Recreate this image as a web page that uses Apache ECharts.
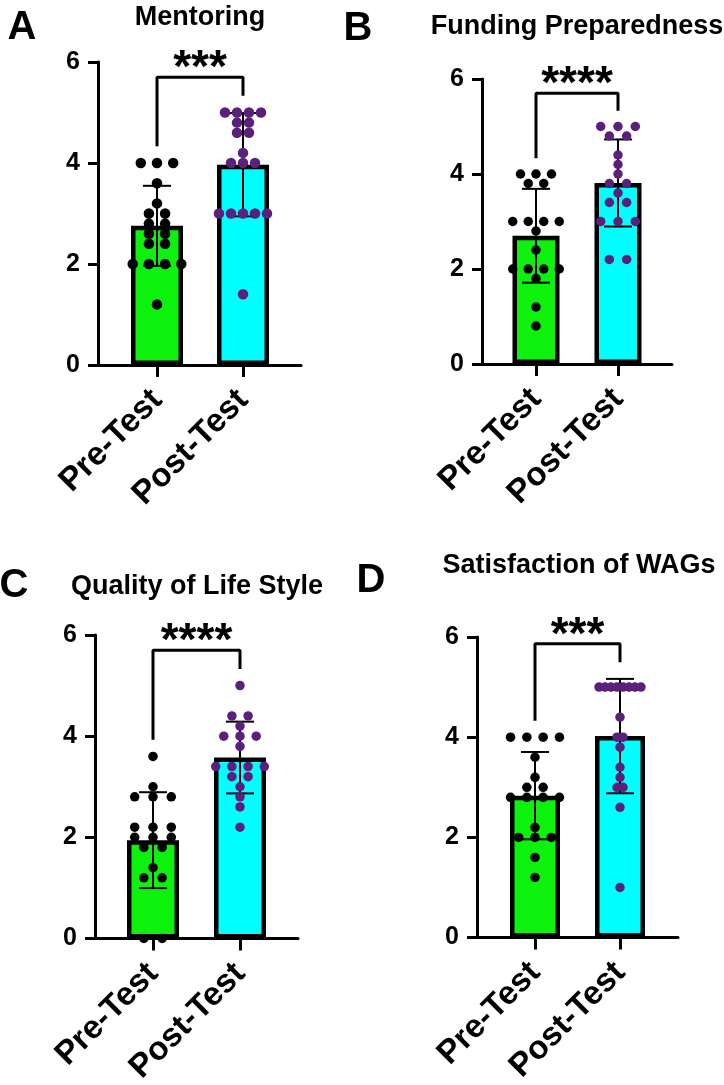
<!DOCTYPE html>
<html>
<head>
<meta charset="utf-8">
<script src="https://cdn.jsdelivr.net/npm/echarts@6.0.0/dist/echarts.min.js"></script>
<style>
html,body{margin:0;padding:0;background:#fff;}
#chart{width:724px;height:1085px;}
</style>
</head>
<body>
<div id="chart"></div>
<script>
// ---------- data ----------
const categories = ['Pre-Test', 'Post-Test'];
const titles = ['Mentoring', 'Funding Preparedness', 'Quality of Life Style', 'Satisfaction of WAGs'];
const panelLetters = ['A', 'B', 'C', 'D'];
const significance = ['***', '****', '****', '***'];
const yTickValues = [0, 2, 4, 6];

const mentoringPre  = [4, 4, 4, 3.6, 3.2, 3, 3, 2.8, 2.8, 2.6, 2.6, 2.4, 2.4, 2, 2, 2, 2, 1.2];
const mentoringPost = [5, 5, 5, 5, 4.8, 4.8, 4.6, 4.6, 4.2, 4, 4, 4, 3, 3, 3, 3, 3, 1.4];
const fundingPre    = [4, 4, 4, 3.8, 3.8, 3, 3, 3, 3, 2.8, 2.4, 2, 2, 2, 2, 1.8, 1.2, 0.8];
const fundingPost   = [5, 5, 5, 4.8, 4.8, 4.4, 4.2, 4, 3.8, 3.8, 3.6, 3.4, 3.4, 3, 3, 3, 2.2, 2.2];
const lifestylePre  = [3.6, 3, 2.8, 2.8, 2.8, 2.2, 2.2, 2.2, 2, 2, 2, 1.8, 1.8, 1.4, 1.2, 1.2, 0, 0];
const lifestylePost = [5, 4.4, 4.4, 4.2, 4, 4, 4, 3.8, 3.4, 3.4, 3.4, 3.4, 3.2, 3.2, 3, 2.8, 2.6, 2.2];
const wagsPre       = [4, 4, 4, 4, 3.6, 3.2, 3, 3, 2.8, 2.8, 2.8, 2.8, 2.2, 2, 2, 2, 1.6, 1.2];
const wagsPost      = [5, 5, 5, 5, 5, 5, 5, 5, 4.4, 4, 4, 3.8, 3.4, 3.2, 3, 3, 2.6, 1];

const panelSeries = [
  [mentoringPre, mentoringPost],
  [fundingPre, fundingPost],
  [lifestylePre, lifestylePost],
  [wagsPre, wagsPost]
];

// ---------- layout & style (pixels) ----------
const layout = [
  {left: 98,  c1: 157, c2: 243, right: 301, top: 62,  bottom: 365,   barWidth: 52, dot: 10.5, spacing: [16.2, 12],   titleX: 200, titleY: 18,  letterX: 22,  letterY: 28},
  {left: 482, c1: 536, c2: 618, right: 672, top: 79,  bottom: 364,   barWidth: 47, dot: 9.5,  spacing: [15.5, 17.3], titleX: 577, titleY: 27,  letterX: 358, letterY: 29},
  {left: 95,  c1: 153, c2: 240, right: 298, top: 635, bottom: 938.5, barWidth: 52, dot: 9.5,  spacing: [18.3, 16.2], titleX: 197, titleY: 587, letterX: 14,  letterY: 586},
  {left: 477, c1: 535, c2: 620, right: 678, top: 637, bottom: 937.6, barWidth: 50, dot: 9.5,  spacing: [16.3, 6],    titleX: 579, titleY: 566, letterX: 371, letterY: 581}
];
const FONT = '"Liberation Sans", Arial, Helvetica, sans-serif';
const barColors = ['#0cf20c', '#00ffff'];
const dotColors = ['#000000', '#5b1f7c'];

// ---------- helpers ----------
const mean = a => a.reduce((s, v) => s + v, 0) / a.length;
const sd = a => { const m = mean(a); return Math.sqrt(a.reduce((s, v) => s + (v - m) * (v - m), 0) / (a.length - 1)); };
const maxOf = a => Math.max.apply(null, a);

function swarm(values, spacing, xPos) {
  const groups = {};
  values.forEach(v => { const k = v.toFixed(2); (groups[k] = groups[k] || []).push(v); });
  const out = [];
  Object.keys(groups).forEach(k => {
    const g = groups[k]; const n = g.length;
    g.forEach((v, i) => out.push({value: [xPos, v], symbolOffset: [(i - (n - 1) / 2) * spacing, 0]}));
  });
  return out;
}

const grids = [], xAxes = [], yAxes = [], series = [], graphics = [];

panelSeries.forEach((pair, p) => {
  const L = layout[p];
  const unit = L.c2 - L.c1;
  const xmin = 1 - (L.c1 - L.left) / unit;
  const xmax = 2 + (L.right - L.c2) / unit;
  grids.push({left: L.left, top: L.top, width: L.right - L.left, height: L.bottom - L.top, outerBoundsMode: 'none', containLabel: false});
  xAxes.push({
    type: 'value', gridIndex: p, min: xmin, max: xmax,
    axisLine: {show: true, onZero: false, lineStyle: {color: '#000', width: 3}},
    axisTick: {show: true, customValues: [1, 2], length: 12, lineStyle: {color: '#000', width: 3}},
    axisLabel: {show: true, customValues: [1, 2], rotate: 45, margin: 30,
      formatter: v => categories[Math.round(v) - 1] || '',
      color: '#000', fontFamily: FONT, fontWeight: 'bold', fontSize: 33},
    splitLine: {show: false}
  });
  yAxes.push({
    type: 'value', gridIndex: p, min: yTickValues[0], max: yTickValues[yTickValues.length - 1], interval: yTickValues[1] - yTickValues[0],
    axisLine: {show: true, lineStyle: {color: '#000', width: 3}},
    axisTick: {show: true, length: 10, lineStyle: {color: '#000', width: 3}},
    axisLabel: {color: '#000', fontFamily: FONT, fontWeight: 'bold', fontSize: 25, margin: 18},
    splitLine: {show: false}
  });

  const means = pair.map(mean), sds = pair.map(sd);

  // bars
  series.push({
    type: 'bar', xAxisIndex: p, yAxisIndex: p, barWidth: L.barWidth, z: 2,
    itemStyle: {borderColor: '#000', borderWidth: 4.5},
    data: means.map((m, i) => ({value: [i + 1, m], itemStyle: {color: barColors[i]}}))
  });

  // error bars (mean ± SD)
  series.push({
    type: 'custom', xAxisIndex: p, yAxisIndex: p, z: 3, clip: false,
    encode: {x: 0, y: [1, 2]},
    data: means.map((m, i) => [i + 1, m - sds[i], m + sds[i]]),
    renderItem: (params, api) => {
      const x = api.value(0);
      const lo = api.coord([x, api.value(1)]);
      const hi = api.coord([x, api.value(2)]);
      const hw = 14;
      const st = {stroke: '#000', lineWidth: 2};
      return {type: 'group', children: [
        {type: 'line', shape: {x1: lo[0], y1: lo[1], x2: hi[0], y2: hi[1]}, style: st},
        {type: 'line', shape: {x1: hi[0] - hw, y1: hi[1], x2: hi[0] + hw, y2: hi[1]}, style: st},
        {type: 'line', shape: {x1: lo[0] - hw, y1: lo[1], x2: lo[0] + hw, y2: lo[1]}, style: st}
      ]};
    }
  });

  // dots
  pair.forEach((vals, i) => {
    series.push({
      type: 'scatter', xAxisIndex: p, yAxisIndex: p, z: 4, clip: false,
      symbol: 'circle', symbolSize: L.dot,
      itemStyle: {color: dotColors[i], opacity: 1},
      data: swarm(vals, L.spacing[i], i + 1)
    });
  });

  // significance bracket
  const lb = Math.max(maxOf(pair[0]), means[0] + sds[0]) + 0.33;
  const rb = Math.max(maxOf(pair[1]), means[1] + sds[1]) + 0.33;
  const top = Math.max(lb, rb) + 0.37;
  series.push({
    type: 'line', xAxisIndex: p, yAxisIndex: p, z: 3, clip: false, symbol: 'none', silent: true,
    lineStyle: {color: '#000', width: 3}, animation: false,
    data: [[1, lb], [1, top], [2, top], [2, rb]]
  });
  series.push({
    type: 'custom', xAxisIndex: p, yAxisIndex: p, z: 5, clip: false,
    data: [[1.5, top]],
    renderItem: (params, api) => {
      const c = api.coord([api.value(0), api.value(1)]);
      return {type: 'text', x: c[0], y: c[1] - 8, style: {text: significance[p], fill: '#000',
        font: 'bold 46px ' + FONT, align: 'center', verticalAlign: 'middle'}};
    }
  });

  graphics.push({type: 'text', x: L.titleX, y: L.titleY, style: {text: titles[p], fill: '#000',
    font: 'bold 27px ' + FONT, align: 'center', verticalAlign: 'middle'}});
  graphics.push({type: 'text', x: L.letterX, y: L.letterY, style: {text: panelLetters[p], fill: '#000',
    font: 'bold 40px ' + FONT, align: 'center', verticalAlign: 'middle'}});
});

const chart = echarts.init(document.getElementById('chart'));
chart.setOption({
  animation: false,
  backgroundColor: '#fff',
  grid: grids, xAxis: xAxes, yAxis: yAxes, series: series,
  graphic: graphics
});
</script>
</body>
</html>
